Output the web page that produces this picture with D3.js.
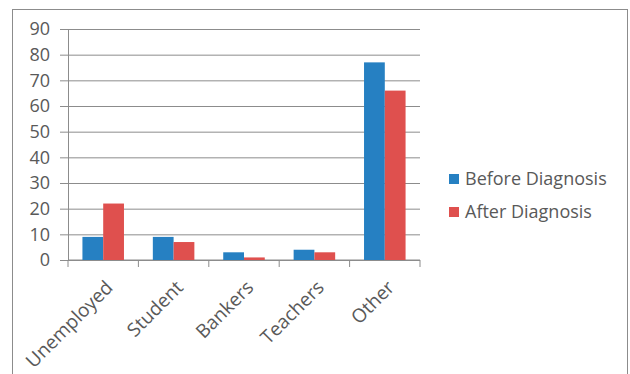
<!DOCTYPE html>
<html>
<head>
<meta charset="utf-8">
<script src="https://cdn.jsdelivr.net/npm/d3@7"></script>
<style>
  body { margin: 0; background: #fff; }
  text { font-family: "Open Sans", "Noto Sans", sans-serif; fill: #595959; }
</style>
</head>
<body>
<div id="chart"></div>
<script>
const categories = ["Unemployed", "Student", "Bankers", "Teachers", "Other"];
const seriesNames = ["Before Diagnosis", "After Diagnosis"];
const beforeValues = [9, 9, 3, 4, 77];
const afterValues = [22, 7, 1, 3, 66];
const yTicks = [0, 10, 20, 30, 40, 50, 60, 70, 80, 90];

const colours = ["#2680c2", "#df504e"];
const dims = { width: 630, height: 374, left: 68, right: 420, top: 29, bottom: 260 };

const svg = d3.select("#chart").append("svg")
  .attr("width", dims.width).attr("height", dims.height);

// outer frame
svg.append("rect")
  .attr("x", 12.5).attr("y", 9.5)
  .attr("width", 615).attr("height", 380)
  .attr("fill", "none").attr("stroke", "#8c8c8c");

const x = d3.scaleBand().domain(categories).range([dims.left, dims.right])
  .paddingInner(0.41).paddingOuter(0.205);
const xInner = d3.scaleBand().domain(seriesNames).range([0, x.bandwidth()]);
const y = d3.scaleLinear().domain([0, 90]).range([dims.bottom, dims.top]);

// gridlines + y axis
const yAxis = d3.axisLeft(y).tickValues(yTicks)
  .tickSize(-(dims.right - dims.left)).tickSizeOuter(0).tickPadding(10);
const gy = svg.append("g").attr("transform", `translate(${dims.left},0)`).call(yAxis);
gy.selectAll(".tick line").attr("stroke", "#8c8c8c").attr("x1", -8);
gy.select(".domain").attr("stroke", "#8c8c8c");
gy.selectAll(".tick text").style("font-size", "18px").attr("fill", "#595959")
  .attr("x", -18);

// x axis
const edges = d3.range(categories.length + 1).map(i => dims.left + i * (dims.right - dims.left) / categories.length);
svg.append("g").selectAll("line").data(edges).join("line")
  .attr("x1", d => d).attr("x2", d => d)
  .attr("y1", dims.bottom).attr("y2", dims.bottom + 7)
  .attr("stroke", "#8c8c8c");
svg.append("line")
  .attr("x1", dims.left).attr("x2", dims.right)
  .attr("y1", dims.bottom).attr("y2", dims.bottom)
  .attr("stroke", "#8c8c8c");

const data = categories.map((c, i) => ({ cat: c, vals: [beforeValues[i], afterValues[i]] }));

const groups = svg.append("g").selectAll("g").data(data).join("g")
  .attr("transform", d => `translate(${x(d.cat)},0)`);
groups.selectAll("rect").data(d => d.vals.map((v, j) => ({ name: seriesNames[j], v: v, j: j })))
  .join("rect")
  .attr("x", d => xInner(d.name))
  .attr("width", xInner.bandwidth())
  .attr("y", d => y(d.v))
  .attr("height", d => y(0) - y(d.v))
  .attr("fill", d => colours[d.j]);

// category labels
svg.append("g").selectAll("text").data(categories).join("text")
  .attr("transform", d => `translate(${x(d) + x.bandwidth() / 2 + 6},${dims.bottom + 24}) rotate(-45)`)
  .attr("text-anchor", "end")
  .attr("dy", "0.35em")
  .style("font-size", "19px")
  .text(d => d);

// legend
const legend = svg.append("g").attr("transform", "translate(449,174)");
const items = legend.selectAll("g").data(seriesNames).join("g")
  .attr("transform", (d, i) => `translate(0,${i * 33})`);
items.append("rect").attr("width", 10).attr("height", 10)
  .attr("fill", (d, i) => colours[i]);
items.append("text").attr("x", 16).attr("y", 11)
  .style("font-size", "18px").text(d => d);
</script>
</body>
</html>
